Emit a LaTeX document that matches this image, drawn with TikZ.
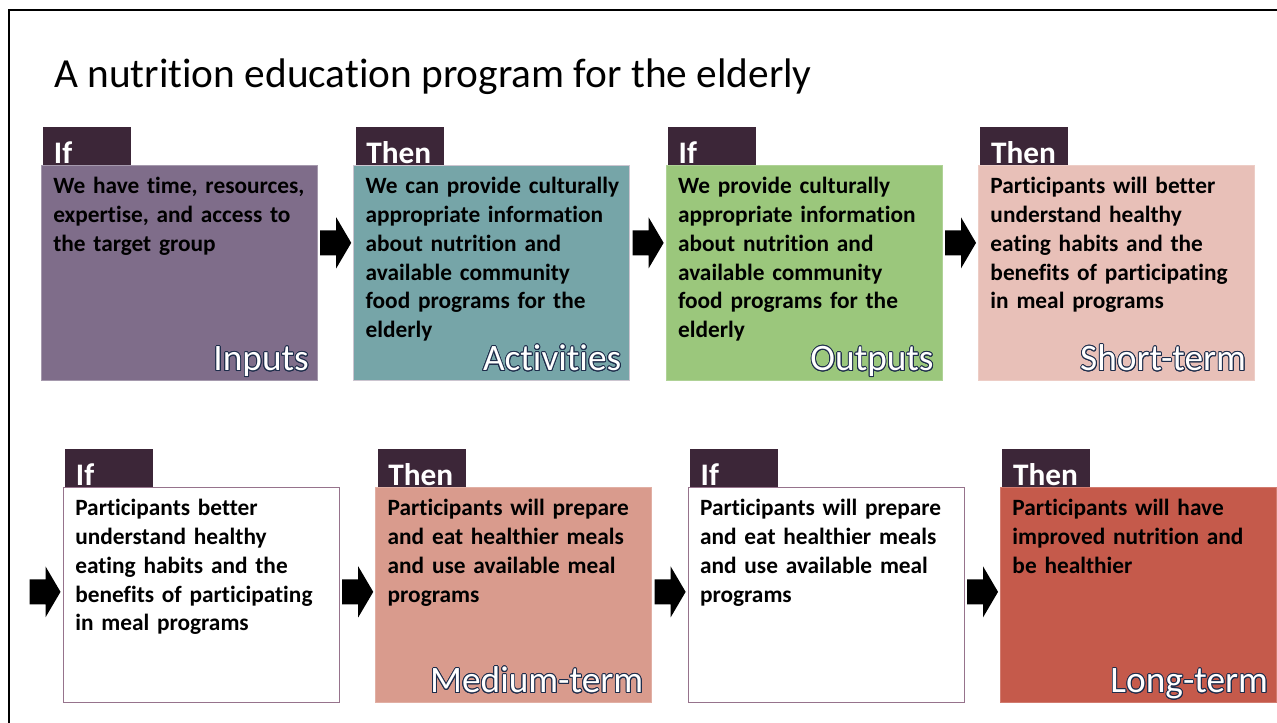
\documentclass[tikz,border=0pt]{standalone}
\usepackage{fontspec}
\setmainfont[Ligatures=NoCommon]{Carlito}
\usepackage{contour}
\contourlength{0.7pt}
\usetikzlibrary{positioning}
\usetikzlibrary{calc}
\definecolor{tabdark}{RGB}{60,38,56}
\definecolor{inputfill}{RGB}{127,109,138}
\definecolor{activfill}{RGB}{118,165,168}
\definecolor{outfill}{RGB}{155,199,124}
\definecolor{shortfill}{RGB}{232,192,184}
\definecolor{medfill}{RGB}{217,155,141}
\definecolor{longfill}{RGB}{197,90,75}
\definecolor{plainline}{RGB}{150,115,140}
\definecolor{termline}{RGB}{30,45,75}
\newcommand\mystage[4][]{%
  \node[stagebox,#1] (#2) {};
  \node[tabbox] (#2-tab) at ($(#2.north west)+(2,0)$) {#3};
  \node[bodytext] (#2-text) at ($(#2.north west)+(12,12)$) {#4};
}
\newcommand\myterm[2]{%
  \node[termtext] (#1-term) at ($(#1.south east)+(-9,-10)$) {\contour{termline}{#2}};
}
\newcommand\blockarrow[2]{%
  \coordinate (#1) at #2;
  \fill[shift={(#1)}] (-15.5,-12.5) -- (0.5,-12.5) -- (0.5,-25.5) -- (15.5,0)
    -- (0.5,25.5) -- (0.5,12.5) -- (-15.5,12.5) -- cycle;
}

\begin{document}
\begin{tikzpicture}[x=0.75pt, y=-0.75pt,
stagebox/.style={
  rectangle,
  draw,
  line width=0.8pt,
  anchor=north west,
  minimum width=207pt,
  minimum height=161pt,
  inner sep=0pt},
tabbox/.style={
  fill=tabdark,
  text=white,
  anchor=south west,
  font=\fontsize{23.5}{23.5}\selectfont\bfseries,
  text width=50pt,
  align=left,
  inner xsep=8pt,
  inner ysep=0pt,
  text height=27.5pt,
  text depth=1pt},
bodytext/.style={
  anchor=north west,
  inner sep=0pt,
  text width=200pt,
  align=left,
  font=\fontsize{17.5}{21.6}\selectfont\bfseries},
termtext/.style={
  anchor=base east,
  inner sep=0pt,
  text=white,
  font=\fontsize{28}{28}\selectfont}
]
\useasboundingbox (0,0) rectangle (1277,723);
\clip (0,0) rectangle (1277,723);
\draw[line width=1.5pt] (9,740) -- (9,10) -- (1290,10);

\node[anchor=base west, inner sep=0pt, font=\fontsize{31}{31}\selectfont] (title) at (54,88)
  {A nutrition education program for the elderly};

% top row
\mystage[at={(41,165)}, fill=inputfill, draw=inputfill!70!white]{inputs}{If}
  {We have time, resources,\\ expertise, and access to\\ the target group}
\mystage[right=26.5pt of inputs, fill=activfill, draw=inputfill!40!white]{activities}{Then}
  {We can provide culturally\\ appropriate information\\ about nutrition and\\ available community\\ food programs for the\\ elderly}
\mystage[right=26.5pt of activities, fill=outfill, draw=outfill!80!white]{outputs}{If}
  {We provide culturally\\ appropriate information\\ about nutrition and\\ available community\\ food programs for the\\ elderly}
\mystage[right=26.5pt of outputs, fill=shortfill, draw=shortfill!80!white]{shortterm}{Then}
  {Participants will better\\ understand healthy\\ eating habits and the\\ benefits of participating\\ in meal programs}
\myterm{inputs}{Inputs}
\myterm{activities}{Activities}
\myterm{outputs}{Outputs}
\myterm{shortterm}{Short-term}

% bottom row
\mystage[at={(63,487)}, fill=white, draw=plainline]{understand}{If}
  {Participants better\\ understand healthy\\ eating habits and the\\ benefits of participating\\ in meal programs}
\mystage[right=26.5pt of understand, fill=medfill, draw=medfill!80!white]{prepare}{Then}
  {Participants will prepare\\ and eat healthier meals\\ and use available meal\\ programs}
\mystage[right=26.5pt of prepare, fill=white, draw=plainline]{useprog}{If}
  {Participants will prepare\\ and eat healthier meals\\ and use available meal\\ programs}
\mystage[right=26.5pt of useprog, fill=longfill, draw=longfill!80!white]{longterm}{Then}
  {Participants will have\\ improved nutrition and\\ be healthier}
\myterm{prepare}{Medium-term}
\myterm{longterm}{Long-term}

% arrows
\blockarrow{a1}{($(inputs.east)!0.5!(activities.west)+(0,-30)$)}
\blockarrow{a2}{($(activities.east)!0.5!(outputs.west)+(0,-30)$)}
\blockarrow{a3}{($(outputs.east)!0.5!(shortterm.west)+(0,-30)$)}
\blockarrow{a4}{($(understand.west)+(-18,-3)$)}
\blockarrow{a5}{($(understand.east)!0.5!(prepare.west)+(0,-3)$)}
\blockarrow{a6}{($(prepare.east)!0.5!(useprog.west)+(0,-3)$)}
\blockarrow{a7}{($(useprog.east)!0.5!(longterm.west)+(0,-3)$)}
\end{tikzpicture}
\end{document}
